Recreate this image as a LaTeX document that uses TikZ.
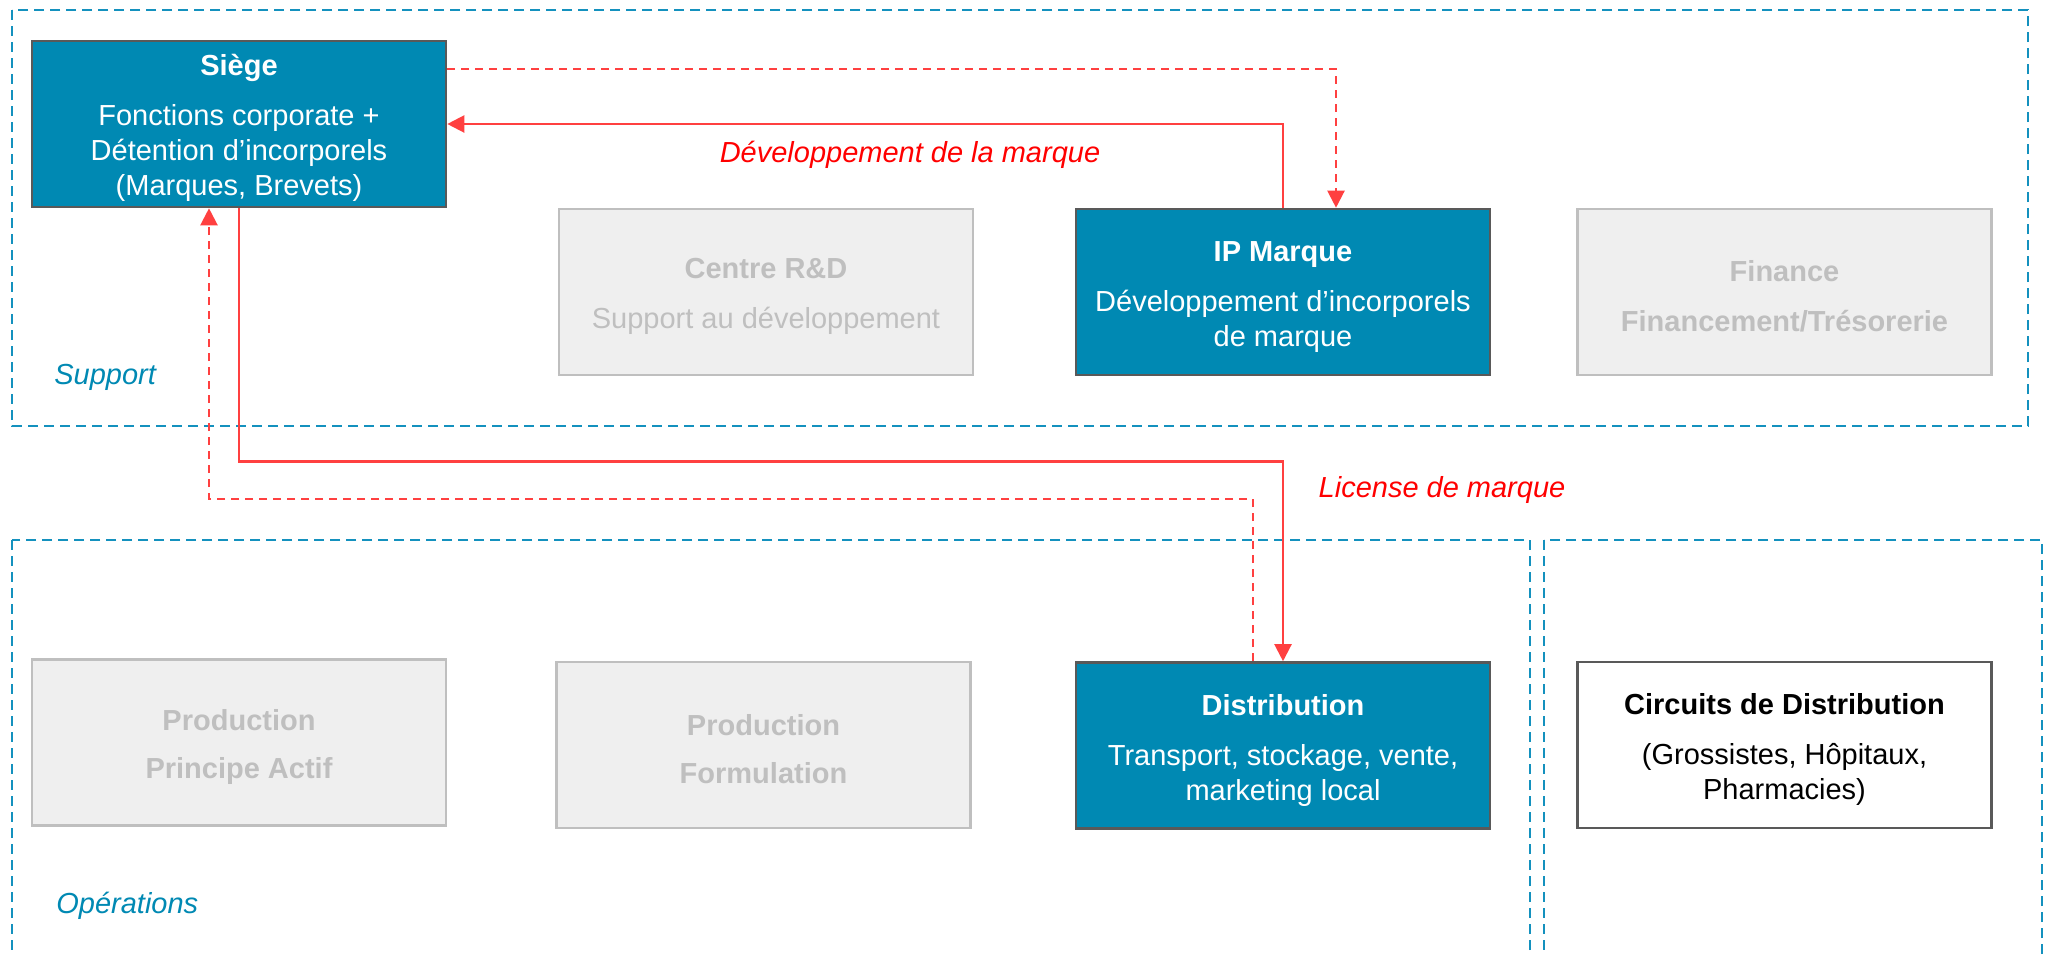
\documentclass[tikz,border=0pt]{standalone}
\usepackage{fontspec}
\setmainfont{Liberation Sans}
\usetikzlibrary{arrows.meta}
\definecolor{boxblue}{RGB}{0,137,179}
\definecolor{boxborder}{RGB}{89,89,89}
\definecolor{greyfill}{RGB}{239,239,239}
\definecolor{greyline}{RGB}{191,191,191}
\definecolor{greytext}{RGB}{191,191,191}
\definecolor{contcol}{RGB}{20,145,190}
\definecolor{flowred}{RGB}{255,64,64}
\definecolor{labelred}{RGB}{255,0,0}
\newcommand{\topstrut}{\rule{0pt}{15pt}}
\begin{document}
\begin{tikzpicture}[x=0.5pt,y=-0.5pt,
  basebox/.style={line width=1.3pt, minimum width=207pt, minimum height=83pt,
    inner sep=0pt, align=center, font=\fontsize{14.5}{17.5}\selectfont},
  bluebox/.style={basebox, draw=boxborder, fill=boxblue, text=white},
  greybox/.style={basebox, draw=greyline, fill=greyfill, text=greytext},
  whitebox/.style={basebox, draw=boxborder, fill=white, text=black},
  container/.style={draw=contcol, line width=1pt, dash pattern=on 5pt off 3pt},
  flow/.style={draw=flowred, line width=1.1pt, -{Triangle[length=8.5pt,width=8.5pt]}},
  flowd/.style={flow, dash pattern=on 4pt off 3pt},
  redlabel/.style={text=labelred, font=\fontsize{14.5}{17.5}\selectfont\itshape},
  sectlabel/.style={text=boxblue, font=\fontsize{14.5}{17.5}\selectfont\itshape, anchor=west, inner sep=0pt}
]
\clip (0,0) rectangle (2049,954);
\fill[white] (0,0) rectangle (2049,954);

% containers
\draw[container] (12,10) rectangle (2028,426);
\draw[container] (12,540) rectangle (1530,970);
\draw[container] (1544,540) rectangle (2042,970);

\node[sectlabel] (supportlabel) at (54,377) {Support};
\node[sectlabel] (opslabel) at (56,906) {Opérations};

% boxes
\node[bluebox] (siege) at (239,124) {\topstrut\textbf{Siège}\\[7.5pt]Fonctions corporate +\\Détention d’incorporels\\(Marques, Brevets)};
\node[greybox] (rd) at (766,292) {\topstrut\textbf{Centre R\&D}\\[7.5pt]Support au développement};
\node[bluebox] (ipm) at (1283,292) {\topstrut\textbf{IP Marque}\\[7.5pt]Développement d’incorporels\\de marque};
\node[greybox] (fin) at (1784.5,292) {\topstrut\textbf{Finance}\\[7.5pt]\textbf{Financement/Trésorerie}};

\node[greybox] (prodpa) at (239,742.5) {\topstrut\textbf{Production}\\[6.5pt]\textbf{Principe Actif}};
\node[greybox] (prodform) at (763.5,745) {\topstrut\textbf{Production}\\[6.5pt]\textbf{Formulation}};
\node[bluebox] (dist) at (1283,745.5) {\topstrut\textbf{Distribution}\\[7.5pt]Transport, stockage, vente,\\marketing local};
\node[whitebox] (circ) at (1784.5,745) {\topstrut\textbf{Circuits de Distribution}\\[7.5pt](Grossistes, Hôpitaux,\\Pharmacies)};

% connectors
\draw[flow] (ipm.north) |- (siege.east);
\draw[flowd] ([yshift=27.5pt]siege.east) -| ([xshift=26.5pt]ipm.north);

\coordinate (licbend) at (1283,461.5);
\draw[flow] (siege.south) |- (licbend) -- (dist.north);

\coordinate (retbend) at (1253,499);
\draw[flowd] ([xshift=-15pt]dist.north) -- (retbend) -| ([xshift=-15pt]siege.south);

% labels
\node[redlabel] (devlabel) at (910,155) {Développement de la marque};
\node[redlabel] (liclabel) at (1442,490) {License de marque};
\end{tikzpicture}
\end{document}
